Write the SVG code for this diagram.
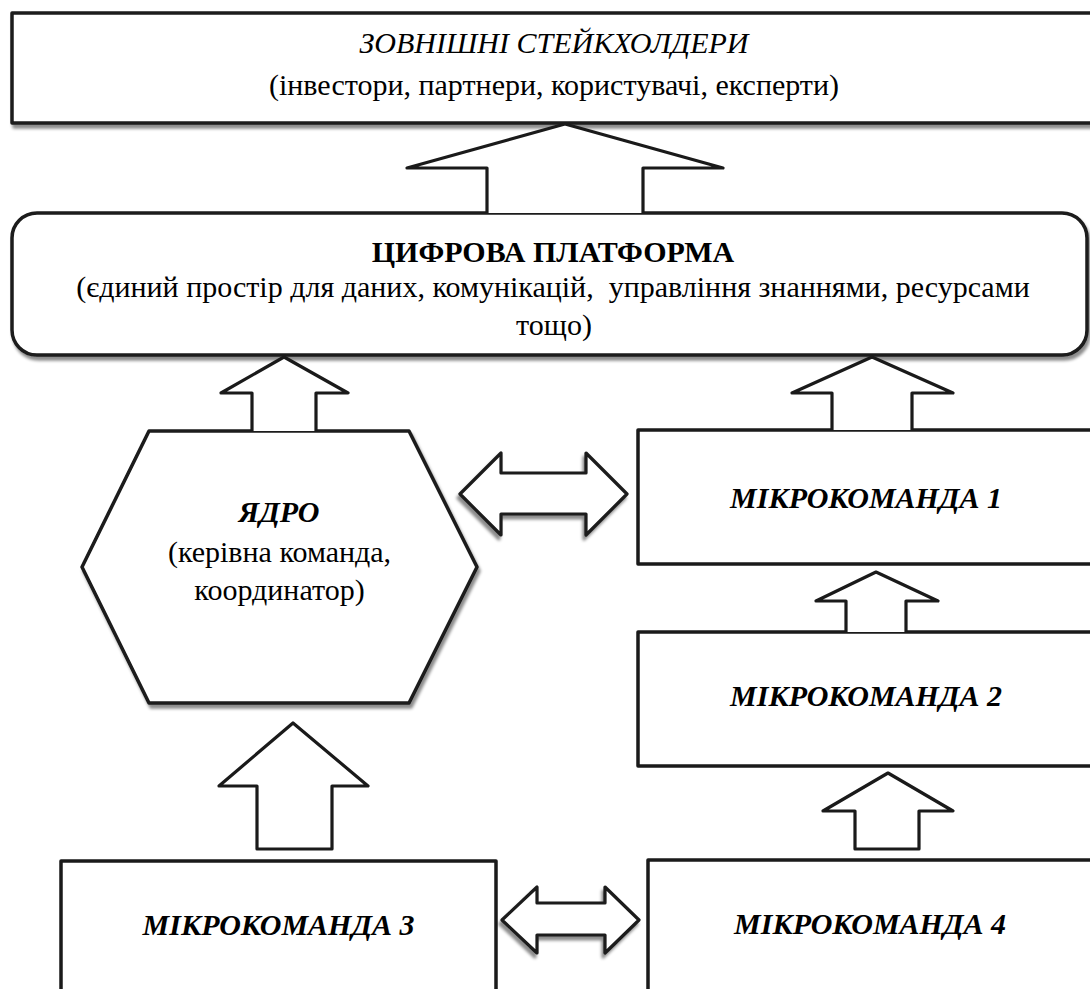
<svg xmlns="http://www.w3.org/2000/svg" width="1090" height="989" viewBox="0 0 1090 989" font-family="'Liberation Serif', 'DejaVu Serif', serif">
<style>
.box{fill:#fff;stroke:#1a1a1a;stroke-width:3.5;stroke-linejoin:round}
.arr{fill:#fff;stroke:#1a1a1a;stroke-width:3.2;stroke-linejoin:round}
.t{font-family:'Liberation Serif','DejaVu Serif',serif;font-size:30px;fill:#000;text-anchor:middle}
.i{font-style:italic}
.b{font-weight:bold}
.bi{font-weight:bold;font-style:italic}
</style>
<defs>
<filter id="sh" x="-10%" y="-10%" width="130%" height="140%">
<feDropShadow dx="2" dy="4" stdDeviation="1.5" flood-color="#000" flood-opacity="0.45"/>
</filter>
<filter id="shd" x="-20%" y="-20%" width="140%" height="150%">
<feDropShadow dx="-2" dy="4" stdDeviation="1.5" flood-color="#000" flood-opacity="0.45"/>
</filter>
</defs>
<rect width="1090" height="989" fill="#fff"/>

<g id="stakeholders">
<rect class="box" x="12" y="13" width="1100" height="110" filter="url(#sh)"/>
<text class="t i" x="554" y="53">ЗОВНІШНІ СТЕЙКХОЛДЕРИ</text>
<text class="t" x="554" y="95">(інвестори, партнери, користувачі, експерти)</text>
</g>

<g id="platform">
<rect class="box" x="12" y="213" width="1075" height="142" rx="25" ry="25" filter="url(#sh)"/>
<text class="t b" x="553" y="262">ЦИФРОВА ПЛАТФОРМА</text>
<text class="t" x="553" y="297" style="white-space:pre">(єдиний простір для даних, комунікацій,  управління знаннями, ресурсами</text>
<text class="t" x="554" y="335">тощо)</text>
</g>

<g id="core">
<polygon class="box" points="149,431 409,431 477,567 409,703 149,703 82,567" filter="url(#sh)"/>
<text class="t bi" x="279" y="522">ЯДРО</text>
<text class="t" x="279.5" y="562">(керівна команда,</text>
<text class="t" x="279.5" y="600">координатор)</text>
</g>

<g id="microteam1">
<rect class="box" x="638" y="430" width="470" height="134"/>
<text class="t bi" x="866" y="508">МІКРОКОМАНДА 1</text>
</g>

<g id="microteam2">
<rect class="box" x="638" y="632" width="470" height="134"/>
<text class="t bi" x="866" y="706">МІКРОКОМАНДА 2</text>
</g>

<g id="microteam3">
<rect class="box" x="61" y="861" width="435" height="150"/>
<text class="t bi" x="278.5" y="935">МІКРОКОМАНДА 3</text>
</g>

<g id="microteam4">
<rect class="box" x="648" y="860" width="460" height="150"/>
<text class="t bi" x="870" y="934">МІКРОКОМАНДА 4</text>
</g>

<g id="connectors">
<path class="arr" d="M487,213 L487,168 L407,168 L565,124 L723,168 L643,168 L643,213"/>
<path class="arr" d="M252,431 L252,393 L221,393 L284,357 L348,393 L316,393 L316,431"/>
<path class="arr" d="M832,430 L832,393 L792,393 L872,357 L953,393 L912,393 L912,430"/>
<path class="arr" d="M846,632 L846,601 L816,601 L876,572 L938,601 L906,601 L906,632"/>
<path class="arr" d="M855,849 L855,811 L823,811 L888,773 L953,811 L919,811 L919,849 Z"/>
<path class="arr" d="M257,849 L257,786 L219,786 L293,723 L368,786 L332,786 L332,849 Z"/>
<path class="arr" filter="url(#shd)" d="M460,494 L501,453 L501,473 L586,473 L586,453 L627,494 L586,535 L586,514 L501,514 L501,535 Z"/>
<path class="arr" filter="url(#shd)" d="M502,920 L537,887 L537,903 L605,903 L605,887 L639,920 L605,953 L605,935 L537,935 L537,953 Z"/>
</g>
</svg>
